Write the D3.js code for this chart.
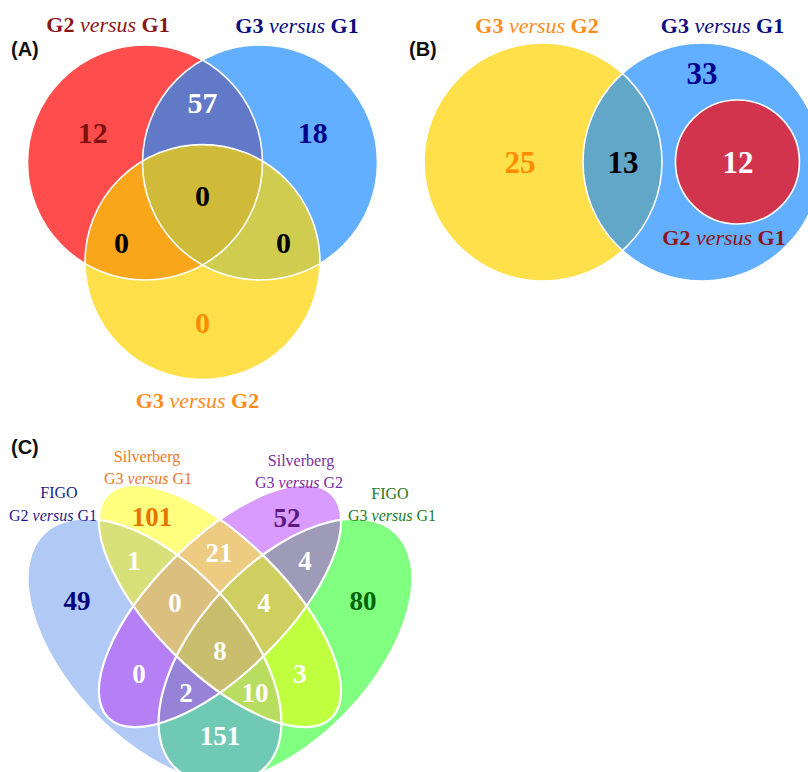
<!DOCTYPE html>
<html><head><meta charset="utf-8">
<script src="https://cdn.jsdelivr.net/npm/d3@7"></script>
<style>body{margin:0;background:#fff}svg{display:block}</style>
</head><body>
<svg id="chart" width="808" height="772"></svg>
<script>
// ---------------- DATA ----------------
// Panel A : three comparisons
const setNamesA = ["G2 versus G1", "G3 versus G1", "G3 versus G2"];
const regionsA  = ["100", "010", "001", "110", "101", "011", "111"];
const valuesA   = [12, 18, 0, 57, 0, 0, 0];

// Panel B : G2 versus G1 is a subset of G3 versus G1
const setNamesB = ["G3 versus G2", "G3 versus G1", "G2 versus G1"];
const regionsB  = ["100", "010", "110", "011"];
const valuesB   = [25, 33, 13, 12];

// Panel C : FIGO / Silverberg grading systems
const groupC    = ["FIGO", "Silverberg", "Silverberg", "FIGO"];
const setNamesC = ["G2 versus G1", "G3 versus G1", "G3 versus G2", "G3 versus G1"];
const regionsC  = ["1000","0100","0010","0001","1100","0110","0011","1010","0101","1001","1110","0111","1011","1101","1111"];
const valuesC   = [49, 101, 52, 80, 1, 21, 4, 0, 3, 151, 0, 4, 2, 10, 8];

// ---------------- LAYOUT / STYLE ----------------
const SERIF = "'Liberation Serif','Times New Roman',serif";
const SANS = "'Liberation Sans',Arial,sans-serif";
const svg = d3.select("#chart");
const defs = svg.append("defs");

function addShape(parent, s, xs, ys) {
  const k = xs(1) - xs(0);
  return parent.append("ellipse")
    .attr("cx", xs(s.cx)).attr("cy", ys(s.cy))
    .attr("rx", s.rx * k).attr("ry", s.ry * k)
    .attr("transform", `rotate(${s.rot || 0} ${xs(s.cx)} ${ys(s.cy)})`);
}
const nOnes = k => [...k].filter(c => c === "1").length;

function drawVenn(id, shapes, xs, ys, regions, colors, strokeW) {
  const g = svg.append("g");
  shapes.forEach((s, i) => addShape(defs.append("clipPath").attr("id", id + i), s, xs, ys));
  const order = d3.range(regions.length).sort((a, b) => nOnes(regions[a]) - nOnes(regions[b]));
  order.forEach(ri => {
    const inc = [...regions[ri]].map((c, i) => c === "1" ? i : -1).filter(i => i >= 0);
    let parent = g;
    inc.slice(1).forEach(i => { parent = parent.append("g").attr("clip-path", `url(#${id}${i})`); });
    addShape(parent, shapes[inc[0]], xs, ys).attr("fill", colors[ri]);
  });
  shapes.forEach(s => addShape(g, s, xs, ys).attr("fill", "none").attr("stroke", "#fff").attr("stroke-width", strokeW));
  return g;
}

function drawNumbers(pos, values, colors, xs, ys, size) {
  svg.append("g").selectAll("text").data(values).join("text")
    .attr("x", (d, i) => xs(pos[i][0]))
    .attr("y", (d, i) => ys(pos[i][1]) + size * 0.34)
    .attr("text-anchor", "middle")
    .attr("font-family", SERIF).attr("font-weight", "bold").attr("font-size", size)
    .attr("fill", (d, i) => colors[i])
    .text(d => d);
}

function setTitle(x, y, name, size, color, boldEnds) {
  const parts = name.split(" versus ");
  const t = svg.append("text").attr("x", x).attr("y", y).attr("text-anchor", "middle")
    .attr("font-family", SERIF).attr("font-size", size).attr("fill", color);
  t.append("tspan").attr("font-weight", boldEnds ? "bold" : "normal").text(parts[0] + " ");
  t.append("tspan").attr("font-style", "italic").text("versus");
  t.append("tspan").attr("font-weight", boldEnds ? "bold" : "normal").text(" " + parts[1]);
}
function panelLetter(x, y, txt) {
  svg.append("text").attr("x", x).attr("y", y).attr("font-family", SANS)
    .attr("font-weight", "bold").attr("font-size", 20).attr("fill", "#111").text(txt);
}

// ---------- Panel A ----------
{
  const xs = d3.scaleLinear().domain([-1, 1]).range([85, 320]);
  const ys = d3.scaleLinear().domain([-1, 1]).range([78.2, 313.2]);
  const s = 0.979;
  const shapes = [
    { cx: -s / 2, cy: -s / (2 * Math.sqrt(3)), rx: 1, ry: 1 },
    { cx: s / 2, cy: -s / (2 * Math.sqrt(3)), rx: 1, ry: 1 },
    { cx: 0, cy: s / Math.sqrt(3), rx: 1, ry: 1 }
  ];
  const fills = ["#FF4D4D", "#62AEFF", "#FFE04A", "#6279C8", "#F9A61B", "#CFCC50", "#CFBA3A"];
  drawVenn("ca", shapes, xs, ys, regionsA, fills, 1.6);
  const pos = [[-0.934, -0.538], [0.938, -0.538], [0, 1.079], [0, -0.789], [-0.69, 0.398], [0.69, 0.398], [0, 0]];
  const numCol = ["#7F1010", "#00008B", "#FF8C00", "#ffffff", "#000", "#000", "#000"];
  drawNumbers(pos, valuesA, numCol, xs, ys, 30);
  const titleCol = ["#8B1515", "#0A0A80", "#FF8C1A"];
  const titlePos = [[108, 32], [297, 33], [197.5, 408]];
  setNamesA.forEach((n, i) => setTitle(titlePos[i][0], titlePos[i][1], n, 22, titleCol[i], true));
  panelLetter(11, 56, "(A)");
}

// ---------- Panel B ----------
{
  const xs = d3.scaleLinear().domain([-1, 1]).range([424, 662]);
  const ys = d3.scaleLinear().domain([-1, 1]).range([43, 281]);
  const shapes = [
    { cx: 0, cy: 0, rx: 1, ry: 1 },
    { cx: 1.336, cy: 0, rx: 1, ry: 1 },
    { cx: 1.634, cy: 0, rx: 0.521, ry: 0.521 }
  ];
  const fills = ["#FFE04A", "#62AEFF", "#62A6C8", "#D2344E"];
  drawVenn("cb", shapes, xs, ys, regionsB, fills, 1.6);
  const pos = [[-0.193, 0.008], [1.336, -0.748], [0.672, 0.008], [1.639, 0.008]];
  const numCol = ["#FF8C00", "#00008B", "#000", "#ffffff"];
  drawNumbers(pos, valuesB, numCol, xs, ys, 31);
  const titleCol = ["#FF8C1A", "#0A0A80", "#8B1515"];
  const titlePos = [[537, 33], [722.5, 33], [724, 245]];
  setNamesB.forEach((n, i) => setTitle(titlePos[i][0], titlePos[i][1], n, 22, titleCol[i], true));
  panelLetter(409, 56, "(B)");
}

// ---------- Panel C ----------
{
  const xs = d3.scaleLinear().domain([-2.2, 2.2]).range([0, 440]);
  const ys = d3.scaleLinear().domain([-1.76, 1.66]).range([430, 772]);
  const shapes = [
    { cx: -0.655, cy: 0.445, rx: 1.61, ry: 0.87, rot: 47 },
    { cx: 0, cy: 0, rx: 1.58, ry: 0.663, rot: 45 },
    { cx: 0, cy: 0, rx: 1.58, ry: 0.663, rot: 135 },
    { cx: 0.655, cy: 0.445, rx: 1.61, ry: 0.87, rot: 133 }
  ];
  const fills = ["#B0C9F5", "#FFFF80", "#DA9BFF", "#80FF80",
                 "#D8E07A", "#EDCB80", "#9D9BB8", "#B580F5", "#C0FF40", "#70C9B5",
                 "#DBBF7F", "#CFCE60", "#9683D8", "#B9DD60", "#C9BE6E"];
  drawVenn("cc", shapes, xs, ys, regionsC, fills, 2.2);
  const pos = [[-1.43, -0.05], [-0.68, -0.895], [0.67, -0.885], [1.43, -0.05],
               [-0.86, -0.452], [-0.01, -0.535], [0.85, -0.45], [-0.81, 0.68], [0.80, 0.68], [0, 1.30],
               [-0.45, -0.035], [0.44, -0.035], [-0.34, 0.865], [0.35, 0.865], [0, 0.45]];
  const white = "#ffffff";
  const numCol = ["#00007F", "#E87400", "#5C1A80", "#006400", white, white, white, white, white, white, white, white, white, white, white];
  drawNumbers(pos, valuesC, numCol, xs, ys, 27);
  const labCol = ["#1C1C8C", "#F07820", "#7A2E9E", "#1E7B1E"];
  const labPos = [[59, 498, 53, 521], [147, 462, 148, 484], [301, 466, 299, 488], [390, 499, 392, 521]];
  setNamesC.forEach((n, i) => {
    svg.append("text").attr("x", labPos[i][0]).attr("y", labPos[i][1]).attr("text-anchor", "middle")
      .attr("font-family", SERIF).attr("font-size", 16).attr("fill", labCol[i]).text(groupC[i]);
    setTitle(labPos[i][2], labPos[i][3], n, 16, labCol[i], false);
  });
  panelLetter(11, 454, "(C)");
}
</script>
</body></html>
